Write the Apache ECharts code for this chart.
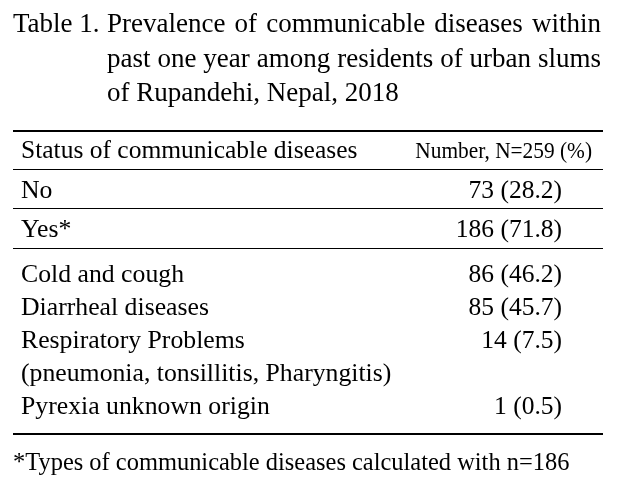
<!DOCTYPE html>
<html>
<head>
<meta charset="utf-8">
<script src="https://cdn.jsdelivr.net/npm/echarts@6/dist/echarts.min.js"></script>
<style>
  html, body { margin: 0; padding: 0; background: #fff; }
  #chart { width: 617px; height: 491px; }
</style>
</head>
<body>
<div id="chart"></div>
<script>
// table content
const titleLabel = 'Table 1.'
const titleLines = [
  'Prevalence of communicable diseases within',
  'past one year among residents of urban slums',
  'of Rupandehi, Nepal, 2018'
]
const headerLeft = 'Status of communicable diseases'
const headerRight = 'Number, N=259 (%)'
const statusNames = ['No', 'Yes*']
const statusCounts = [73, 186]
const statusPct = [28.2, 71.8]
const typeNames = ['Cold and cough', 'Diarrheal diseases', 'Respiratory Problems', 'Pyrexia unknown origin']
const typeNotes = ['', '', '(pneumonia, tonsillitis, Pharyngitis)', '']
const typeCounts = [86, 85, 14, 1]
const typePct = [46.2, 45.7, 7.5, 0.5]
const footnote = '*Types of communicable diseases calculated with n=186'

const FONT = '"Liberation Serif", "Times New Roman", serif'
const fmt = (n, p) => n + ' (' + p.toFixed(1) + ')'

const ctx = document.createElement('canvas').getContext('2d')
const measure = (s, size) => {
  ctx.font = size + 'px ' + FONT
  return ctx.measureText(s).width
}

const elements = []
// base = text baseline, sx = horizontal squeeze
const txt = (s, x, base, size, align, sx) => {
  elements.push({
    type: 'text',
    x: x,
    y: base - size * 0.3,
    scaleX: sx || 1,
    style: {
      text: s,
      font: size + 'px ' + FONT,
      fill: '#000',
      align: align || 'left',
      verticalAlign: 'middle'
    }
  })
}
const rule = (y, w) => {
  elements.push({
    type: 'line',
    shape: { x1: 13, y1: y, x2: 603, y2: y },
    style: { stroke: '#000', lineWidth: w }
  })
}

// title, first two lines justified
const tSize = 27
const tLeft = 107
const tRight = 601
const tBase = [33, 68, 102]
txt(titleLabel, 13, tBase[0], tSize)
titleLines.forEach((line, i) => {
  if (i === titleLines.length - 1) {
    txt(line, tLeft, tBase[i], tSize)
    return
  }
  const words = line.split(' ')
  const widths = words.map(w => measure(w, tSize))
  const total = widths.reduce((a, b) => a + b, 0)
  const gap = (tRight - tLeft - total) / (words.length - 1)
  let x = tLeft
  words.forEach((w, j) => {
    txt(w, x, tBase[i], tSize)
    x += widths[j] + gap
  })
})

// rules
rule(131, 2)
rule(169.5, 1)
rule(208.5, 1)
rule(248.5, 1)
rule(434, 2)

// header
txt(headerLeft, 21, 159, 25.5)
txt(headerRight, 592, 159, 24, 'right', 0.89)

// status rows
const colRight = 562
const lblSize = 26
const lblSx = 0.99
const valSize = 25.5
statusNames.forEach((name, i) => {
  const base = 199 + i * 39
  txt(name, 21, base, lblSize, 'left', lblSx)
  txt(fmt(statusCounts[i], statusPct[i]), colRight, base, valSize, 'right')
})

// types of diseases
let base = 283
typeNames.forEach((name, i) => {
  txt(name, 21, base, lblSize, 'left', lblSx)
  txt(fmt(typeCounts[i], typePct[i]), colRight, base, valSize, 'right')
  base += 33
  if (typeNotes[i]) {
    txt(typeNotes[i], 21, base, lblSize, 'left', lblSx)
    base += 33
  }
})

// footnote
txt(footnote, 13, 471, 26, 'left', 0.94)

const chart = echarts.init(document.getElementById('chart'), null, { renderer: 'canvas' })
chart.setOption({
  backgroundColor: '#fff',
  graphic: { elements: elements }
})
window.addEventListener('resize', () => chart.resize())
</script>
</body>
</html>
